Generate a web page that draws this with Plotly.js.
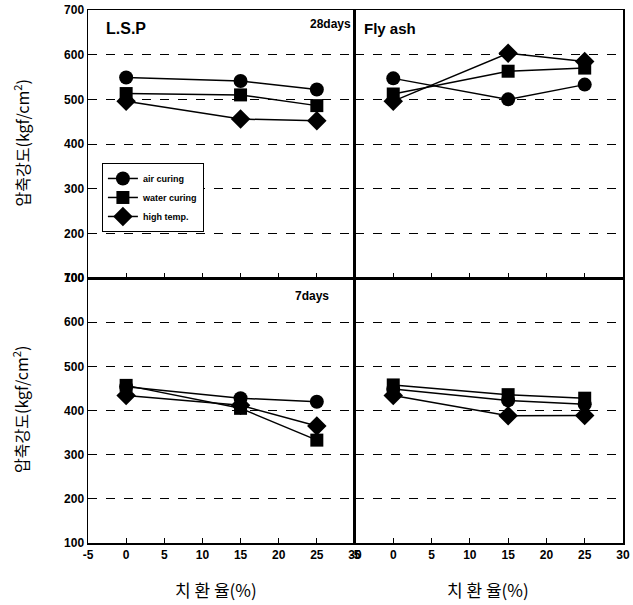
<!DOCTYPE html>
<html>
<head>
<meta charset="utf-8">
<script src="https://cdn.plot.ly/plotly-3.0.1.min.js"></script>
<style>html,body{margin:0;padding:0;background:#fff;}#chart{width:633px;height:605px;}</style>
</head>
<body>
<div id="chart"></div>
<script>
const xVals = [0, 15, 25];
const seriesNames = ['air curing', 'water curing', 'high temp.'];
// 28 days
const lsp28_air = [549, 541, 522];
const lsp28_water = [513, 510, 486];
const lsp28_high = [496, 456, 452];
const fa28_air = [547, 500, 533];
const fa28_water = [512, 563, 570];
const fa28_high = [496, 603, 585];
// 7 days
const lsp7_air = [454, 428, 420];
const lsp7_water = [457, 405, 333];
const lsp7_high = [434, 412, 365];
const fa7_air = [449, 423, 414];
const fa7_water = [458, 436, 428];
const fa7_high = [434, 388, 389];
const xTicks = [-5, 0, 5, 10, 15, 20, 25, 30];
const yTicks = [100, 200, 300, 400, 500, 600, 700];

const symbols = ['circle', 'square', 'diamond'];
const sizes = [14, 13, 15];

function mk(y, i, xa, ya, show) {
  return {
    x: xVals, y: y, type: 'scatter', mode: 'lines+markers',
    name: seriesNames[i], legendgroup: 'g' + i, showlegend: show,
    xaxis: xa, yaxis: ya,
    line: {color: '#000', width: 1.5},
    marker: {symbol: symbols[i], size: sizes[i], color: '#000'}
  };
}

const data = [
  mk(lsp28_air, 0, 'x3', 'y3', true),
  mk(lsp28_water, 1, 'x3', 'y3', true),
  mk(lsp28_high, 2, 'x3', 'y3', true),
  mk(fa28_air, 0, 'x4', 'y4', false),
  mk(fa28_water, 1, 'x4', 'y4', false),
  mk(fa28_high, 2, 'x4', 'y4', false),
  mk(lsp7_air, 0, 'x', 'y', false),
  mk(lsp7_water, 1, 'x', 'y', false),
  mk(lsp7_high, 2, 'x', 'y', false),
  mk(fa7_air, 0, 'x2', 'y2', false),
  mk(fa7_water, 1, 'x2', 'y2', false),
  mk(fa7_high, 2, 'x2', 'y2', false)
];

const tickFont = {family: 'Liberation Sans, Arial, sans-serif', size: 12, color: '#000'};
const b = v => '<b>' + v + '</b>';

function xAx(domain, anchor, labels) {
  return {
    domain: domain, anchor: anchor, range: [-5, 30],
    tickvals: xTicks, ticktext: xTicks.map(b), showticklabels: labels,
    ticks: 'inside', ticklen: 5, tickwidth: 1.2, tickcolor: '#000',
    showline: true, linecolor: '#000', linewidth: 1.5, mirror: true,
    showgrid: false, zeroline: false, tickfont: tickFont
  };
}
function yAx(domain, anchor, labels) {
  return {
    domain: domain, anchor: anchor, range: [100, 700],
    tickvals: yTicks, ticktext: yTicks.map(b), showticklabels: labels,
    ticks: '', showline: true, linecolor: '#000', linewidth: 1.5, mirror: true,
    showgrid: true, gridcolor: '#000', gridwidth: 1, griddash: 'dash',
    zeroline: false, tickfont: tickFont
  };
}

const xd1 = [0, 0.499], xd2 = [0.499, 1];
const yd1 = [0, 0.497], yd2 = [0.497, 1];

const ytitle = '압축강도(kgf/cm<sup>2</sup>)';
const kr = 'Noto Sans CJK KR, sans-serif';
function bold(size) { return {family: 'Liberation Sans, Arial, sans-serif', color: '#000', weight: 700, size: size}; }

const layout = {
  width: 633, height: 605,
  margin: {l: 88, r: 10, t: 10, b: 62},
  paper_bgcolor: '#fff', plot_bgcolor: '#fff',
  showlegend: true,
  legend: {
    x: 0.026, y: 0.713, xanchor: 'left', yanchor: 'top',
    bgcolor: '#fff', bordercolor: '#000', borderwidth: 1,
    font: {family: 'Liberation Sans, Arial, sans-serif', size: 9, color: '#000', weight: 700},
    tracegroupgap: 9, traceorder: 'normal'
  },
  xaxis: xAx(xd1, 'y', true),
  yaxis: yAx(yd1, 'x', true),
  xaxis2: xAx(xd2, 'y2', true),
  yaxis2: yAx(yd1, 'x2', false),
  xaxis3: xAx(xd1, 'y3', false),
  yaxis3: yAx(yd2, 'x3', true),
  xaxis4: xAx(xd2, 'y4', false),
  yaxis4: yAx(yd2, 'x4', false),
  annotations: [
    {text: 'L.S.P', xref: 'paper', yref: 'paper', x: 0.03, y: 0.985, xanchor: 'left', yanchor: 'top', showarrow: false, font: bold(16)},
    {text: '28days', xref: 'paper', yref: 'paper', x: 0.495, y: 0.99, xanchor: 'right', yanchor: 'top', showarrow: false, font: bold(12)},
    {text: 'Fly ash', xref: 'paper', yref: 'paper', x: 0.512, y: 0.985, xanchor: 'left', yanchor: 'top', showarrow: false, font: bold(15)},
    {text: '7days', xref: 'paper', yref: 'paper', x: 0.455, y: 0.48, xanchor: 'right', yanchor: 'top', showarrow: false, font: bold(12)},
    {text: ytitle, xref: 'paper', yref: 'paper', x: -0.125, y: 0.75, xanchor: 'center', yanchor: 'middle', textangle: -90, showarrow: false, font: {family: kr, size: 16, color: '#000'}},
    {text: ytitle, xref: 'paper', yref: 'paper', x: -0.125, y: 0.25, xanchor: 'center', yanchor: 'middle', textangle: -90, showarrow: false, font: {family: kr, size: 16, color: '#000'}},
    {text: '치 환 율(%)', xref: 'paper', yref: 'paper', x: 0.24, y: -0.088, xanchor: 'center', yanchor: 'middle', showarrow: false, font: {family: kr, size: 17, color: '#000'}},
    {text: '치 환 율(%)', xref: 'paper', yref: 'paper', x: 0.747, y: -0.088, xanchor: 'center', yanchor: 'middle', showarrow: false, font: {family: kr, size: 17, color: '#000'}}
  ]
};

Plotly.newPlot('chart', data, layout, {staticPlot: true, displayModeBar: false});
</script>
</body>
</html>
